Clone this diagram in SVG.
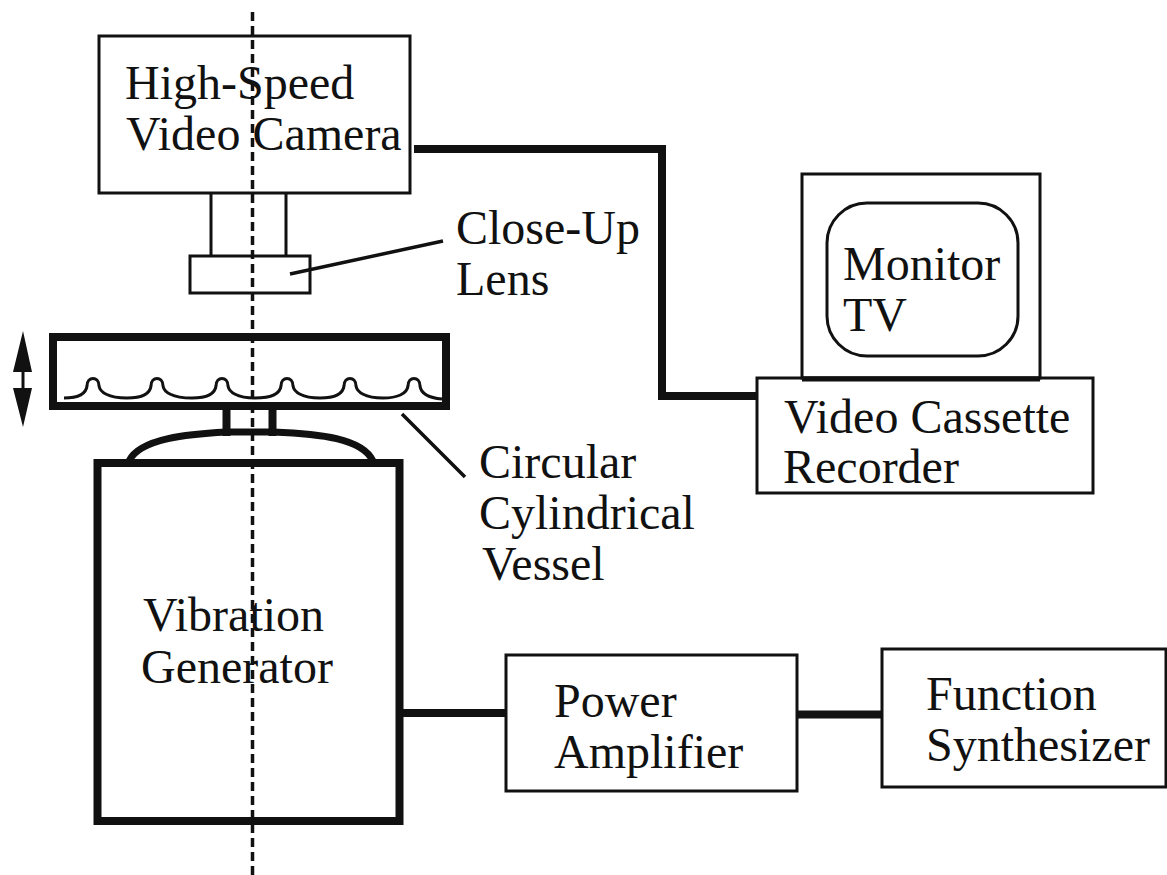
<svg xmlns="http://www.w3.org/2000/svg" width="1167" height="875" viewBox="0 0 1167 875">
<style>
.b{fill:none;stroke:#111;stroke-width:3}
.t{fill:none;stroke:#111;stroke-width:8}
.m{fill:none;stroke:#111;stroke-width:3.5}
text{font-family:"Liberation Serif","Times New Roman",serif;font-size:48px;fill:#111}
</style>
<rect width="1167" height="875" fill="#fff"/>
<g id="camera"><rect class="b" x="99" y="36" width="311" height="157"/><text x="125" y="99">High-Speed</text><text x="126" y="150">Video Camera</text></g>
<g id="lens"><path class="b" d="M211 193V256M286 193V256"/><rect class="b" x="190" y="256" width="120" height="37"/></g>
<g id="lens-label"><text x="456" y="244">Close-Up</text><text x="456" y="295">Lens</text></g>
<g id="monitor"><rect class="b" x="802" y="174" width="238" height="204"/><path d="M802 379H1040" stroke="#111" stroke-width="5"/><rect class="b" x="827" y="203" width="191" height="153" rx="40"/><text x="843" y="280">Monitor</text><text x="843" y="331">TV</text></g>
<g id="vcr"><rect class="b" x="757" y="378" width="336" height="115"/><text x="784" y="433">Video Cassette</text><text x="783" y="483">Recorder</text></g>
<g id="vessel"><rect x="53" y="337" width="393" height="69" fill="none" stroke="#111" stroke-width="8"/><path d="M64 398C78 398 86 394 87 386C87 376 99 376 99 386C100 392 108 398 127 398C141 398 150 394 151 386C151 376 163 376 163 386C164 392 172 398 192 398C206 398 215 394 216 386C216 376 228 376 228 386C229 392 237 398 255 398C270 398 280 394 281 386C281 376 293 376 293 386C294 392 302 398 320 398C334 398 343 394 344 386C344 376 356 376 356 386C357 392 365 398 383 398C397 398 407 394 408 386C408 376 420 376 420 386C421 394 430 398 442 399" fill="none" stroke="#111" stroke-width="3"/></g>
<g id="vessel-label"><text x="479" y="478">Circular</text><text x="479" y="529">Cylindrical</text><text x="482" y="580">Vessel</text></g>
<g id="mount"><path d="M226.5 408V436M272.5 408V436" fill="none" stroke="#111" stroke-width="8"/><path d="M129 461C140 438 190 434 226 432H273C320 434 362 438 373 461" fill="none" stroke="#111" stroke-width="7"/></g>
<g id="generator"><rect x="97.500" y="463" width="302" height="358" fill="none" stroke="#111" stroke-width="8"/><text x="143" y="631">Vibration</text><text x="141" y="683">Generator</text></g>
<g id="amplifier"><rect class="b" x="506" y="655" width="291" height="136"/><text x="554" y="717">Power</text><text x="554" y="768">Amplifier</text></g>
<g id="synth"><rect class="b" x="882" y="649" width="284" height="138"/><text x="926" y="710">Function</text><text x="926" y="761">Synthesizer</text></g>
<g id="connectors">
<path class="t" d="M414 149H662V396H757"/>
<path class="t" d="M401 713H506M797 714.500H882"/>
<path class="m" d="M290 274L443 241M402 414L465 477"/>
<path d="M252.500 12V875" fill="none" stroke="#111" stroke-width="3.500" stroke-dasharray="9 5"/>
<path d="M23 365V395" stroke="#111" stroke-width="3"/>
<path d="M23 331L13 372H32ZM23 427L13 388H32Z" fill="#111"/>
</g>
</svg>
